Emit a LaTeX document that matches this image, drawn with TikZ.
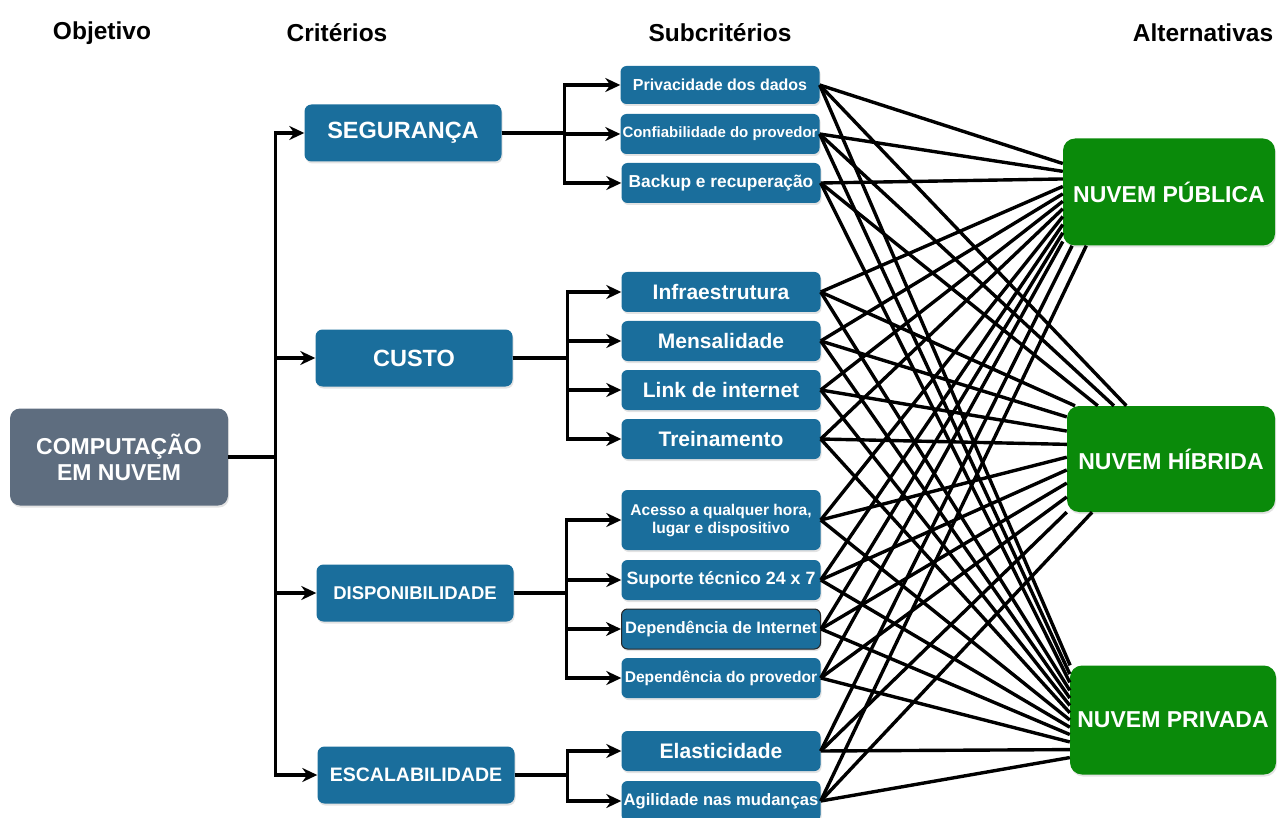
\documentclass[tikz,border=0pt]{standalone}
\usepackage{fontspec}
\setmainfont{Liberation Sans}
\usepackage{xcolor}
\usetikzlibrary{arrows.meta,shadows}
\definecolor{critblue}{RGB}{26,110,156}
\definecolor{goalgrey}{RGB}{94,109,127}
\definecolor{altgreen}{RGB}{10,138,10}
\newcommand{\fsz}[2]{\fontsize{#1}{#2}\selectfont}

\begin{document}
\begin{tikzpicture}[x=1pt,y=-1pt,
    header/.style={font=\bfseries\fsz{24.5}{28}, text=black},
    box/.style={rectangle, fill=critblue, text=white, align=center,
        inner sep=1pt, drop shadow={shadow xshift=1pt, shadow yshift=-2pt, opacity=0.22}},
    goalbox/.style={box, fill=goalgrey, rounded corners=10pt,
        minimum width=218pt, minimum height=97pt, font=\bfseries\fsz{23}{26}},
    crit/.style={box, rounded corners=7pt, minimum width=197pt,
        minimum height=57pt, font=\bfseries\fsz{23.5}{27}},
    sub/.style={box, rounded corners=6pt, minimum width=199pt,
        minimum height=40pt, font=\bfseries\fsz{21}{24}},
    alt/.style={box, fill=altgreen, rounded corners=12pt,
        minimum height=107pt, font=\bfseries\fsz{23}{26}},
    arr/.style={-{Stealth[length=15pt,width=14pt]}, line width=3.4pt},
    link/.style={line width=3.4pt}
]
\useasboundingbox (0,0) rectangle (1277,818);

% column titles
\node[header] (hobj) at (102,33) {Objetivo};
\node[header] (hcrit) at (337,33) {Critérios};
\node[header] (hsub) at (720,33) {Subcritérios};
\node[header] (halt) at (1203,33) {Alternativas};

% goal
\node[goalbox] (goal) at (119,457) {COMPUTAÇÃO\\EM NUVEM};

% criteria
\node[crit] (seg) at (403,133) {SEGURANÇA};
\node[crit] (custo) at (414,358) {CUSTO};
\node[crit, font=\bfseries\fsz{18.5}{22}] (disp) at (415,593) {DISPONIBILIDADE};
\node[crit, font=\bfseries\fsz{19.5}{22}] (esc) at (416,775) {ESCALABILIDADE};

% subcriteria
\node[sub, minimum height=38pt, font=\bfseries\fsz{16}{19}] (priv) at (720,85) {Privacidade dos dados};
\node[sub, font=\bfseries\fsz{15}{18}] (conf) at (720,134) {Confiabilidade do provedor};
\node[sub, font=\bfseries\fsz{17.3}{20}] (back) at (721,183) {Backup e recuperação};
\node[sub] (infra) at (721,292) {Infraestrutura};
\node[sub] (mens) at (721,341) {Mensalidade};
\node[sub] (link) at (721,390) {Link de internet};
\node[sub] (trein) at (721,439) {Treinamento};
\node[sub, minimum height=60pt, font=\bfseries\fsz{15.6}{18}] (aces) at (721,520) {Acesso a qualquer hora,\\lugar e dispositivo};
\node[sub, font=\bfseries\fsz{17.8}{20}] (sup) at (721,580) {Suporte técnico 24 x 7};
\node[sub, draw=black!85, line width=1pt, font=\bfseries\fsz{16.5}{19}] (depi) at (721,629) {Dependência de Internet};
\node[sub, font=\bfseries\fsz{15.6}{18}] (depp) at (721,678) {Dependência do provedor};
\node[sub] (elas) at (721,751) {Elasticidade};
\node[sub, font=\bfseries\fsz{16.6}{19}] (agil) at (721,801) {Agilidade nas mudanças};

% alternatives
\node[alt, minimum width=212pt] (pub) at (1169,192) {NUVEM PÚBLICA};
\node[alt, minimum width=208pt, minimum height=106pt] (hib) at (1171,459) {NUVEM HÍBRIDA};
\node[alt, minimum width=206pt, minimum height=109pt] (priva) at (1173,720) {NUVEM PRIVADA};

% goal -> criteria
\draw[link] (goal.east) -- ++(47,0);
\foreach \c in {seg,custo,disp,esc}
  \draw[arr] (goal.east) -- ++(47,0) |- (\c.west);

% criteria -> subcriteria
\foreach \s in {priv,conf,back}
  \draw[arr] (seg.east) -- ++(63,0) |- (\s.west);
\foreach \s in {infra,mens,link,trein}
  \draw[arr] (custo.east) -- ++(55,0) |- (\s.west);
\foreach \s in {aces,sup,depi,depp}
  \draw[arr] (disp.east) -- ++(53,0) |- (\s.west);
\foreach \s in {elas,agil}
  \draw[arr] (esc.east) -- ++(53,0) |- (\s.west);

% subcriteria -> alternatives
\foreach \s [count=\i] in {priv,conf,back,infra,mens,link,trein,aces,sup,depi,depp,elas,agil}{
  \pgfmathtruncatemacro\ap{165+(\i-1)*4}
  \pgfmathtruncatemacro\ah{130+(\i-1)*7}
  \pgfmathtruncatemacro\aq{152+(\i-1)*4}
  \draw[link] (\s.east) -- (pub.\ap);
  \draw[link] (\s.east) -- (hib.\ah);
  \draw[link] (\s.east) -- (priva.\aq);
}
\end{tikzpicture}
\end{document}
